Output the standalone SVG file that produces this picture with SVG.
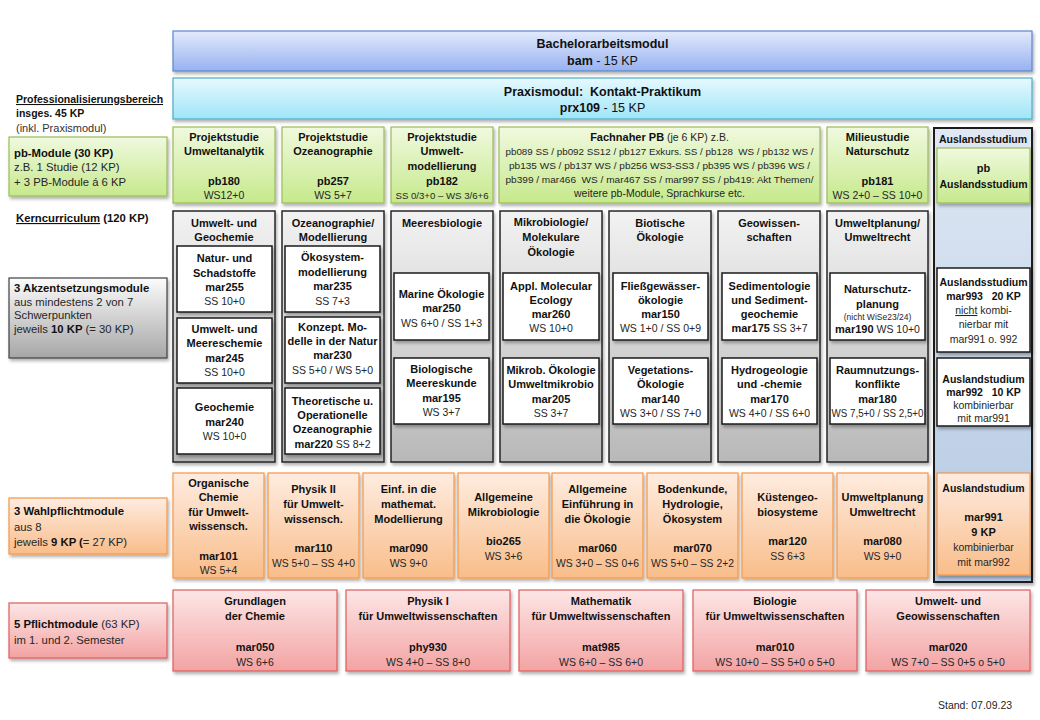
<svg xmlns="http://www.w3.org/2000/svg" width="1040" height="720" viewBox="0 0 1040 720">
<defs>
<linearGradient id="gBlue" x1="0" y1="0" x2="0" y2="1"><stop offset="0" stop-color="#e2eafc"/><stop offset="1" stop-color="#97b2f0"/></linearGradient>
<linearGradient id="gCyan" x1="0" y1="0" x2="0" y2="1"><stop offset="0" stop-color="#e6f9fe"/><stop offset="1" stop-color="#9fe5f8"/></linearGradient>
<linearGradient id="gGreen" x1="0" y1="0" x2="0" y2="1"><stop offset="0" stop-color="#f0f9df"/><stop offset="1" stop-color="#c6e98c"/></linearGradient>
<linearGradient id="gGray" x1="0" y1="0" x2="0" y2="1"><stop offset="0" stop-color="#f2f2f2"/><stop offset="1" stop-color="#b8b8b8"/></linearGradient>
<linearGradient id="gGrayLab" x1="0" y1="0" x2="0" y2="1"><stop offset="0" stop-color="#fcfcfc"/><stop offset="1" stop-color="#a6a6a6"/></linearGradient>
<linearGradient id="gAus" x1="0" y1="0" x2="0" y2="1"><stop offset="0" stop-color="#dfe8f4"/><stop offset="1" stop-color="#b3c8e2"/></linearGradient>
<linearGradient id="gOrange" x1="0" y1="0" x2="0" y2="1"><stop offset="0" stop-color="#feece0"/><stop offset="1" stop-color="#f9bd8a"/></linearGradient>
<linearGradient id="gRed" x1="0" y1="0" x2="0" y2="1"><stop offset="0" stop-color="#fde6e6"/><stop offset="1" stop-color="#f3a3a3"/></linearGradient>
<filter id="sh" x="-10%" y="-10%" width="130%" height="140%"><feDropShadow dx="1.5" dy="2.5" stdDeviation="1.5" flood-color="#000" flood-opacity="0.3"/></filter>
</defs>
<style>
text { font-family: "Liberation Sans", Arial, sans-serif; font-size: 11px; fill: #111; }
.c { text-anchor: middle; }
.b { font-weight: bold; }
.r { font-size: 10.5px; fill: #262626; }
.sm { font-size: 9.5px; fill: #262626; }
.xs { font-size: 8.5px; fill: #262626; }
.big { font-size: 12.5px; }
.lab { font-size: 11.3px; }
.lab2 { font-size: 10.5px; }
.aus { font-size: 10.5px; }
.blue { fill: url(#gBlue); stroke: #5a86cc; stroke-width: 1.2; }
.cyan { fill: url(#gCyan); stroke: #4bacc6; stroke-width: 1.2; }
.green { fill: url(#gGreen); stroke: #9bbb59; stroke-width: 1.2; }
.gray { fill: url(#gGray); stroke: #262626; stroke-width: 1.5; }
.graylab { fill: url(#gGrayLab); stroke: #404040; stroke-width: 1.2; }
.ausc { fill: url(#gAus); stroke: #1f1f1f; stroke-width: 2; }
.white { fill: #fff; stroke: #1a1a1a; stroke-width: 1.5; }
.orange { fill: url(#gOrange); stroke: #f79646; stroke-width: 1.2; }
.red { fill: url(#gRed); stroke: #e05c5c; stroke-width: 1.2; }
</style>
<rect width="1040" height="720" fill="#fff"/>

<!-- top modules -->
<g id="bachelor">
<rect x="173" y="31" width="859" height="40" class="blue" filter="url(#sh)"/>
<text x="602.5" y="48" class="c b big">Bachelorarbeitsmodul</text>
<text x="602.5" y="65" class="c big"><tspan class="b">bam</tspan> - 15 KP</text>
</g>
<g id="praxis">
<rect x="173" y="78" width="859" height="41" class="cyan" filter="url(#sh)"/>
<text x="602.5" y="96" class="c b big" xml:space="preserve">Praxismodul:  Kontakt-Praktikum</text>
<text x="602.5" y="112" class="c big"><tspan class="b">prx109</tspan> - 15 KP</text>
</g>

<!-- left labels -->
<g id="label-prof">
<text x="16" y="103" class="b lab2" text-decoration="underline">Professionalisierungsbereich</text>
<text x="16" y="117" class="b lab2">insges. 45 KP</text>
<text x="16" y="132" style="fill:#333">(inkl. Praxismodul)</text>
</g>
<g id="label-pb">
<rect x="9" y="137" width="158" height="59" class="green" filter="url(#sh)"/>
<text x="14" y="157" class="b lab">pb-Module (30 KP)</text>
<text x="14" y="171" class="lab" style="fill:#262626">z.B. 1 Studie (12 KP)</text>
<text x="14" y="186" class="lab" style="fill:#262626">+ 3 PB-Module á 6 KP</text>
</g>
<g id="label-kern">
<text x="16" y="222" class="b lab"><tspan text-decoration="underline">Kerncurriculum</tspan> (120 KP)</text>
</g>
<g id="label-akzent">
<rect x="9" y="278" width="158" height="80" class="graylab" filter="url(#sh)"/>
<text x="14" y="292" class="b lab">3 Akzentsetzungsmodule</text>
<text x="14" y="306" class="lab" style="fill:#262626">aus mindestens 2 von 7</text>
<text x="14" y="319" class="lab" style="fill:#262626">Schwerpunkten</text>
<text x="14" y="333" class="lab" style="fill:#262626">jeweils <tspan class="b" style="fill:#111">10 KP</tspan> (= 30 KP)</text>
</g>
<g id="label-wahl">
<rect x="9" y="498" width="158" height="56" class="orange" filter="url(#sh)"/>
<text x="14" y="515" class="b lab">3 Wahlpflichtmodule</text>
<text x="14" y="531" class="lab" style="fill:#262626">aus 8</text>
<text x="14" y="546" class="lab" style="fill:#262626">jeweils <tspan class="b" style="fill:#111">9 KP (</tspan>= 27 KP)</text>
</g>
<g id="label-pflicht">
<rect x="9" y="603" width="158" height="55" class="red" filter="url(#sh)"/>
<text x="14" y="628" class="lab" style="fill:#262626"><tspan class="b" style="fill:#111">5 Pflichtmodule</tspan> (63 KP)</text>
<text x="14" y="644" class="lab" style="fill:#262626">im 1. und 2. Semester</text>
</g>

<!-- pb row -->
<g id="pb180">
<rect x="173" y="127" width="102" height="76" class="green" filter="url(#sh)"/>
<text x="224" y="141" class="c b">Projektstudie</text>
<text x="224" y="155" class="c b">Umweltanalytik</text>
<text x="224" y="185" class="c b">pb180</text>
<text x="224" y="199" class="c r">WS12+0</text>
</g>
<g id="pb257">
<rect x="282" y="127" width="102" height="76" class="green" filter="url(#sh)"/>
<text x="333" y="141" class="c b">Projektstudie</text>
<text x="333" y="155" class="c b">Ozeanographie</text>
<text x="333" y="185" class="c b">pb257</text>
<text x="333" y="199" class="c r">WS 5+7</text>
</g>
<g id="pb182">
<rect x="391" y="127" width="102" height="76" class="green" filter="url(#sh)"/>
<text x="442" y="141" class="c b">Projektstudie</text>
<text x="442" y="155" class="c b">Umwelt-</text>
<text x="442" y="170" class="c b">modellierung</text>
<text x="442" y="185" class="c b">pb182</text>
<text x="442" y="199" class="c sm" textLength="93" lengthAdjust="spacingAndGlyphs">SS 0/3+0 – WS 3/6+6</text>
</g>
<g id="fachnaher">
<rect x="499" y="127" width="321" height="76" class="green" filter="url(#sh)"/>
<text x="659.5" y="141" class="c"><tspan class="b">Fachnaher PB</tspan><tspan class="r"> (je 6 KP) z.B.</tspan></text>
<text x="659.5" y="155" class="c sm" xml:space="preserve" textLength="308" lengthAdjust="spacingAndGlyphs">pb089 SS / pb092 SS12 / pb127 Exkurs. SS / pb128  WS / pb132 WS /</text>
<text x="659.5" y="169" class="c sm" textLength="301" lengthAdjust="spacingAndGlyphs">pb135 WS / pb137 WS / pb256 WS3-SS3 / pb395 WS / pb396 WS /</text>
<text x="659.5" y="183" class="c sm" xml:space="preserve" textLength="308" lengthAdjust="spacingAndGlyphs">pb399 / mar466  WS / mar467 SS / mar997 SS / pb419: Akt Themen/</text>
<text x="659.5" y="197" class="c r">weitere pb-Module, Sprachkurse etc.</text>
</g>
<g id="pb181">
<rect x="827" y="127" width="101" height="76" class="green" filter="url(#sh)"/>
<text x="877.5" y="141" class="c b">Milieustudie</text>
<text x="877.5" y="155" class="c b">Naturschutz</text>
<text x="877.5" y="185" class="c b">pb181</text>
<text x="877.5" y="199" class="c r">WS 2+0 – SS 10+0</text>
</g>

<!-- Auslandsstudium column -->
<g id="auslands-column">
<rect x="934" y="128" width="98" height="454" class="ausc" filter="url(#sh)"/>
<text x="983" y="143" class="c b aus">Auslandsstudium</text>
</g>
<g id="pb-auslands">
<rect x="937" y="148" width="93" height="55" class="green" filter="url(#sh)"/>
<text x="983.5" y="172" class="c b">pb</text>
<text x="983.5" y="188" class="c b aus">Auslandsstudium</text>
</g>

<!-- Kerncurriculum columns -->
<g id="col-umweltgeo">
<rect x="173" y="211" width="102" height="251" class="gray" filter="url(#sh)"/>
<text x="224" y="227" class="c b">Umwelt- und</text>
<text x="224" y="241" class="c b">Geochemie</text>
</g>
<g id="mar255">
<rect x="177" y="246" width="95" height="66" class="white" filter="url(#sh)"/>
<text x="224.5" y="262" class="c b">Natur- und</text>
<text x="224.5" y="277" class="c b">Schadstoffe</text>
<text x="224.5" y="291" class="c b">mar255</text>
<text x="224.5" y="305" class="c r">SS 10+0</text>
</g>
<g id="mar245">
<rect x="177" y="318" width="95" height="65" class="white" filter="url(#sh)"/>
<text x="224.5" y="333" class="c b">Umwelt- und</text>
<text x="224.5" y="347" class="c b">Meereschemie</text>
<text x="224.5" y="362" class="c b">mar245</text>
<text x="224.5" y="376" class="c r">SS 10+0</text>
</g>
<g id="mar240">
<rect x="177" y="388" width="95" height="66" class="white" filter="url(#sh)"/>
<text x="224.5" y="411" class="c b">Geochemie</text>
<text x="224.5" y="426" class="c b">mar240</text>
<text x="224.5" y="440" class="c r">WS 10+0</text>
</g>

<g id="col-ozean">
<rect x="282" y="211" width="102" height="251" class="gray" filter="url(#sh)"/>
<text x="333" y="227" class="c b">Ozeanographie/</text>
<text x="333" y="241" class="c b">Modellierung</text>
</g>
<g id="mar235">
<rect x="285" y="246" width="95" height="66" class="white" filter="url(#sh)"/>
<text x="332.5" y="261" class="c b">Ökosystem-</text>
<text x="332.5" y="276" class="c b">modellierung</text>
<text x="332.5" y="290" class="c b">mar235</text>
<text x="332.5" y="305" class="c r">SS 7+3</text>
</g>
<g id="mar230">
<rect x="285" y="317" width="95" height="66" class="white" filter="url(#sh)"/>
<text x="332.5" y="331" class="c b">Konzept. Mo-</text>
<text x="332.5" y="345" class="c b">delle in der Natur</text>
<text x="332.5" y="359" class="c b">mar230</text>
<text x="332.5" y="374" class="c r">SS 5+0 / WS 5+0</text>
</g>
<g id="mar220">
<rect x="285" y="388" width="95" height="66" class="white" filter="url(#sh)"/>
<text x="332.5" y="405" class="c b">Theoretische u.</text>
<text x="332.5" y="419" class="c b">Operationelle</text>
<text x="332.5" y="433" class="c b">Ozeanographie</text>
<text x="332.5" y="448" class="c"><tspan class="b">mar220</tspan><tspan class="r"> SS 8+2</tspan></text>
</g>

<g id="col-meeresbio">
<rect x="391" y="211" width="102" height="251" class="gray" filter="url(#sh)"/>
<text x="442" y="227" class="c b">Meeresbiologie</text>
</g>
<g id="mar250">
<rect x="394" y="273" width="95" height="67" class="white" filter="url(#sh)"/>
<text x="441.5" y="298" class="c b">Marine Ökologie</text>
<text x="441.5" y="312" class="c b">mar250</text>
<text x="441.5" y="327" class="c r">WS 6+0 / SS 1+3</text>
</g>
<g id="mar195">
<rect x="394" y="358" width="95" height="66" class="white" filter="url(#sh)"/>
<text x="441.5" y="373" class="c b">Biologische</text>
<text x="441.5" y="387" class="c b">Meereskunde</text>
<text x="441.5" y="402" class="c b">mar195</text>
<text x="441.5" y="416" class="c r">WS 3+7</text>
</g>

<g id="col-mikrobio">
<rect x="500" y="211" width="102" height="251" class="gray" filter="url(#sh)"/>
<text x="551" y="226" class="c b">Mikrobiologie/</text>
<text x="551" y="241" class="c b">Molekulare</text>
<text x="551" y="256" class="c b">Ökologie</text>
</g>
<g id="mar260">
<rect x="503" y="273" width="96" height="67" class="white" filter="url(#sh)"/>
<text x="551" y="290" class="c b">Appl. Molecular</text>
<text x="551" y="304" class="c b">Ecology</text>
<text x="551" y="318" class="c b">mar260</text>
<text x="551" y="332" class="c r">WS 10+0</text>
</g>
<g id="mar205">
<rect x="503" y="358" width="96" height="66" class="white" filter="url(#sh)"/>
<text x="551" y="374" class="c b">Mikrob. Ökologie</text>
<text x="551" y="388" class="c b">Umweltmikrobio</text>
<text x="551" y="403" class="c b">mar205</text>
<text x="551" y="417" class="c r">SS 3+7</text>
</g>

<g id="col-biotisch">
<rect x="609" y="211" width="102" height="251" class="gray" filter="url(#sh)"/>
<text x="660" y="227" class="c b">Biotische</text>
<text x="660" y="241" class="c b">Ökologie</text>
</g>
<g id="mar150">
<rect x="613" y="273" width="95" height="67" class="white" filter="url(#sh)"/>
<text x="660.5" y="290" class="c b">Fließgewässer-</text>
<text x="660.5" y="304" class="c b">ökologie</text>
<text x="660.5" y="318" class="c b">mar150</text>
<text x="660.5" y="332" class="c r">WS 1+0 / SS 0+9</text>
</g>
<g id="mar140">
<rect x="613" y="358" width="95" height="66" class="white" filter="url(#sh)"/>
<text x="660.5" y="374" class="c b">Vegetations-</text>
<text x="660.5" y="388" class="c b">Ökologie</text>
<text x="660.5" y="403" class="c b">mar140</text>
<text x="660.5" y="417" class="c r">WS 3+0 / SS 7+0</text>
</g>

<g id="col-geo">
<rect x="718" y="211" width="102" height="251" class="gray" filter="url(#sh)"/>
<text x="769" y="227" class="c b">Geowissen-</text>
<text x="769" y="241" class="c b">schaften</text>
</g>
<g id="mar175">
<rect x="722" y="273" width="95" height="67" class="white" filter="url(#sh)"/>
<text x="769.5" y="290" class="c b">Sedimentologie</text>
<text x="769.5" y="304" class="c b">und Sediment-</text>
<text x="769.5" y="318" class="c b">geochemie</text>
<text x="769.5" y="332" class="c"><tspan class="b">mar175</tspan><tspan class="r"> SS 3+7</tspan></text>
</g>
<g id="mar170">
<rect x="722" y="358" width="95" height="66" class="white" filter="url(#sh)"/>
<text x="769.5" y="374" class="c b">Hydrogeologie</text>
<text x="769.5" y="388" class="c b">und -chemie</text>
<text x="769.5" y="403" class="c b">mar170</text>
<text x="769.5" y="417" class="c r">WS 4+0 / SS 6+0</text>
</g>

<g id="col-planung">
<rect x="827" y="211" width="101" height="251" class="gray" filter="url(#sh)"/>
<text x="877.5" y="227" class="c b">Umweltplanung/</text>
<text x="877.5" y="241" class="c b">Umweltrecht</text>
</g>
<g id="mar190">
<rect x="830" y="273" width="95" height="67" class="white" filter="url(#sh)"/>
<text x="877.5" y="293" class="c b">Naturschutz-</text>
<text x="877.5" y="308" class="c b">planung</text>
<text x="877.5" y="320" class="c xs">(nicht WiSe23/24)</text>
<text x="877.5" y="333" class="c"><tspan class="b">mar190</tspan><tspan class="r"> WS 10+0</tspan></text>
</g>
<g id="mar180">
<rect x="830" y="358" width="95" height="66" class="white" filter="url(#sh)"/>
<text x="877.5" y="374" class="c b">Raumnutzungs-</text>
<text x="877.5" y="388" class="c b">konflikte</text>
<text x="877.5" y="403" class="c b">mar180</text>
<text x="877.5" y="417" class="c r" textLength="92" lengthAdjust="spacingAndGlyphs">WS 7,5+0 / SS 2,5+0</text>
</g>

<g id="mar993">
<rect x="937" y="268" width="93" height="84" class="white" filter="url(#sh)"/>
<text x="983.5" y="286" class="c b aus">Auslandsstudium</text>
<text x="983.5" y="300" class="c b aus" xml:space="preserve">mar993   20 KP</text>
<text x="983.5" y="314" class="c r"><tspan text-decoration="underline">nicht</tspan> kombi-</text>
<text x="983.5" y="328" class="c r">nierbar mit</text>
<text x="983.5" y="343" class="c r">mar991 o. 992</text>
</g>
<g id="mar992">
<rect x="937" y="358" width="93" height="68" class="white" filter="url(#sh)"/>
<text x="983.5" y="383" class="c b aus">Auslandstudium</text>
<text x="983.5" y="396" class="c b aus" xml:space="preserve">mar992   10 KP</text>
<text x="983.5" y="409" class="c r">kombinierbar</text>
<text x="983.5" y="422" class="c r">mit mar991</text>
</g>

<!-- Wahlpflicht row -->
<g id="mar101">
<rect x="173" y="473" width="91" height="105" class="orange" filter="url(#sh)"/>
<text x="218.5" y="487" class="c b">Organische</text>
<text x="218.5" y="501" class="c b">Chemie</text>
<text x="218.5" y="516" class="c b">für Umwelt-</text>
<text x="218.5" y="530" class="c b">wissensch.</text>
<text x="218.5" y="560" class="c b">mar101</text>
<text x="218.5" y="574" class="c r">WS 5+4</text>
</g>
<g id="mar110">
<rect x="268" y="473" width="91" height="105" class="orange" filter="url(#sh)"/>
<text x="313.5" y="493" class="c b">Physik II</text>
<text x="313.5" y="508" class="c b">für Umwelt-</text>
<text x="313.5" y="523" class="c b">wissensch.</text>
<text x="313.5" y="552" class="c b">mar110</text>
<text x="313.5" y="567" class="c r" textLength="83" lengthAdjust="spacingAndGlyphs">WS 5+0 – SS 4+0</text>
</g>
<g id="mar090">
<rect x="363" y="473" width="91" height="105" class="orange" filter="url(#sh)"/>
<text x="408.5" y="493" class="c b">Einf. in die</text>
<text x="408.5" y="508" class="c b">mathemat.</text>
<text x="408.5" y="523" class="c b">Modellierung</text>
<text x="408.5" y="552" class="c b">mar090</text>
<text x="408.5" y="567" class="c r">WS 9+0</text>
</g>
<g id="bio265">
<rect x="458" y="473" width="91" height="105" class="orange" filter="url(#sh)"/>
<text x="503.5" y="501" class="c b">Allgemeine</text>
<text x="503.5" y="516" class="c b">Mikrobiologie</text>
<text x="503.5" y="545" class="c b">bio265</text>
<text x="503.5" y="560" class="c r">WS 3+6</text>
</g>
<g id="mar060">
<rect x="552" y="473" width="91" height="105" class="orange" filter="url(#sh)"/>
<text x="597.5" y="493" class="c b">Allgemeine</text>
<text x="597.5" y="508" class="c b">Einführung in</text>
<text x="597.5" y="523" class="c b">die Ökologie</text>
<text x="597.5" y="552" class="c b">mar060</text>
<text x="597.5" y="567" class="c r" textLength="83" lengthAdjust="spacingAndGlyphs">WS 3+0 – SS 0+6</text>
</g>
<g id="mar070">
<rect x="647" y="473" width="91" height="105" class="orange" filter="url(#sh)"/>
<text x="692.5" y="493" class="c b">Bodenkunde,</text>
<text x="692.5" y="508" class="c b">Hydrologie,</text>
<text x="692.5" y="523" class="c b">Ökosystem</text>
<text x="692.5" y="552" class="c b">mar070</text>
<text x="692.5" y="567" class="c r" textLength="83" lengthAdjust="spacingAndGlyphs">WS 5+0 – SS 2+2</text>
</g>
<g id="mar120">
<rect x="742" y="473" width="91" height="105" class="orange" filter="url(#sh)"/>
<text x="787.5" y="501" class="c b">Küstengeo-</text>
<text x="787.5" y="516" class="c b">biosysteme</text>
<text x="787.5" y="545" class="c b">mar120</text>
<text x="787.5" y="560" class="c r">SS 6+3</text>
</g>
<g id="mar080">
<rect x="837" y="473" width="91" height="105" class="orange" filter="url(#sh)"/>
<text x="882.5" y="501" class="c b">Umweltplanung</text>
<text x="882.5" y="516" class="c b">Umweltrecht</text>
<text x="882.5" y="545" class="c b">mar080</text>
<text x="882.5" y="560" class="c r">WS 9+0</text>
</g>
<g id="mar991">
<rect x="937" y="473" width="93" height="102" class="orange" filter="url(#sh)"/>
<text x="983.5" y="492" class="c b aus">Auslandstudium</text>
<text x="983.5" y="521" class="c b">mar991</text>
<text x="983.5" y="536" class="c b">9 KP</text>
<text x="983.5" y="551" class="c r">kombinierbar</text>
<text x="983.5" y="566" class="c r">mit mar992</text>
</g>

<!-- Pflicht row -->
<g id="mar050">
<rect x="173" y="590" width="164" height="81" class="red" filter="url(#sh)"/>
<text x="255" y="605" class="c b">Grundlagen</text>
<text x="255" y="620" class="c b">der Chemie</text>
<text x="255" y="651" class="c b">mar050</text>
<text x="255" y="666" class="c r">WS 6+6</text>
</g>
<g id="phy930">
<rect x="346" y="590" width="164" height="81" class="red" filter="url(#sh)"/>
<text x="428" y="605" class="c b">Physik I</text>
<text x="428" y="620" class="c b">für Umweltwissenschaften</text>
<text x="428" y="651" class="c b">phy930</text>
<text x="428" y="666" class="c r">WS 4+0 – SS 8+0</text>
</g>
<g id="mat985">
<rect x="519" y="590" width="164" height="81" class="red" filter="url(#sh)"/>
<text x="601" y="605" class="c b">Mathematik</text>
<text x="601" y="620" class="c b">für Umweltwissenschaften</text>
<text x="601" y="651" class="c b">mat985</text>
<text x="601" y="666" class="c r">WS 6+0 – SS 6+0</text>
</g>
<g id="mar010">
<rect x="693" y="590" width="164" height="81" class="red" filter="url(#sh)"/>
<text x="775" y="605" class="c b">Biologie</text>
<text x="775" y="620" class="c b">für Umweltwissenschaften</text>
<text x="775" y="651" class="c b">mar010</text>
<text x="775" y="666" class="c r">WS 10+0 – SS 5+0 o 5+0</text>
</g>
<g id="mar020">
<rect x="866" y="590" width="164" height="81" class="red" filter="url(#sh)"/>
<text x="948" y="605" class="c b">Umwelt- und</text>
<text x="948" y="620" class="c b">Geowissenschaften</text>
<text x="948" y="651" class="c b">mar020</text>
<text x="948" y="666" class="c r">WS 7+0 – SS 0+5 o 5+0</text>
</g>

<g id="connectors"></g>

<g id="stand">
<text x="938" y="709" class="r">Stand: 07.09.23</text>
</g>
</svg>
